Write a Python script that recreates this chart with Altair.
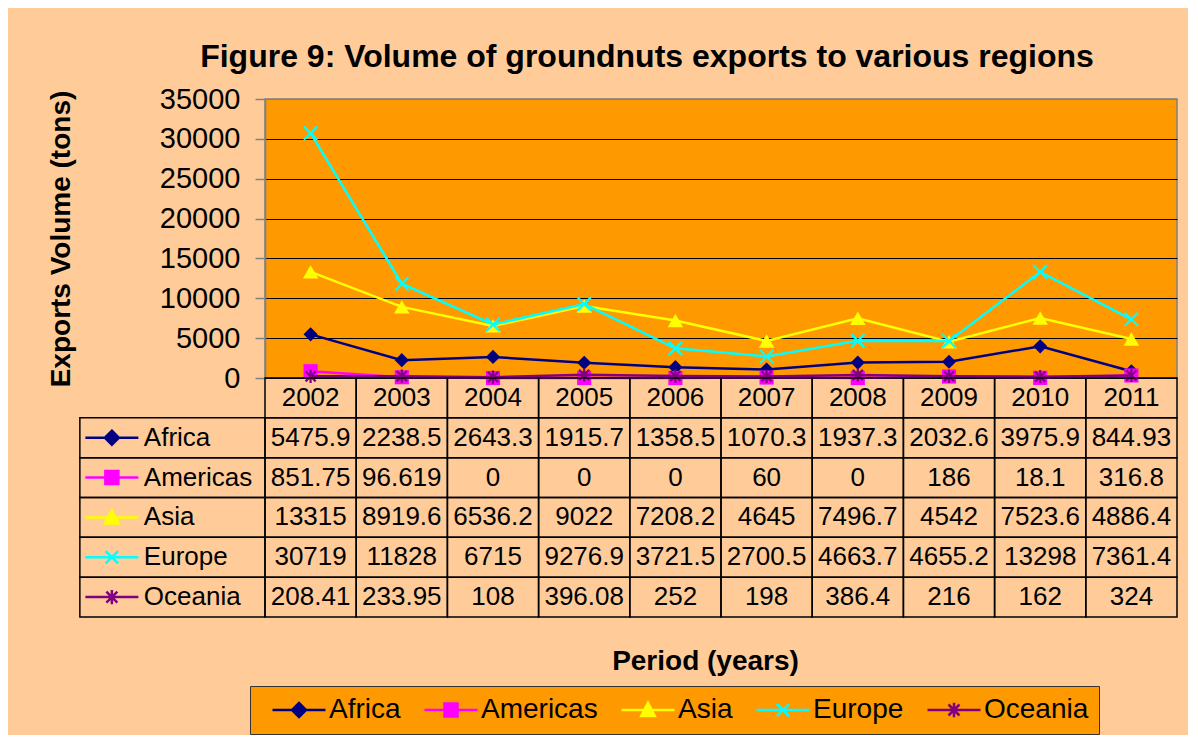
import altair as alt
import pandas as pd

# ---------------- data ----------------
years = [2002, 2003, 2004, 2005, 2006, 2007, 2008, 2009, 2010, 2011]
series = ["Africa", "Americas", "Asia", "Europe", "Oceania"]
africa = [5475.9, 2238.5, 2643.3, 1915.7, 1358.5, 1070.3, 1937.3, 2032.6, 3975.9, 844.93]
americas = [851.75, 96.619, 0, 0, 0, 60, 0, 186, 18.1, 316.8]
asia = [13315, 8919.6, 6536.2, 9022, 7208.2, 4645, 7496.7, 4542, 7523.6, 4886.4]
europe = [30719, 11828, 6715, 9276.9, 3721.5, 2700.5, 4663.7, 4655.2, 13298, 7361.4]
oceania = [208.41, 233.95, 108, 396.08, 252, 198, 386.4, 216, 162, 324]
y_ticks = [0, 5000, 10000, 15000, 20000, 25000, 30000, 35000]

colors = ["#000080", "#FF00FF", "#FFFF00", "#00FFFF", "#800080"]
FONT = "Liberation Sans"

rows = []
for s, vals in zip(series, [africa, americas, asia, europe, oceania]):
    for i, (yr, v) in enumerate(zip(years, vals)):
        rows.append({"Series": s, "Year": str(yr), "Value": v, "Row": s,
                     "Col": i, "Text": "{:.6g}".format(v)})
df = pd.DataFrame(rows)

hdr = pd.DataFrame({"Row": "Year", "Col": list(range(len(years))),
                    "Text": [str(y) for y in years]})
cells = pd.concat([hdr, df[["Row", "Col", "Text"]]], ignore_index=True)
cells["Col2"] = cells["Col"] + 1
cells["Mid"] = cells["Col"] + 0.5

labcol = pd.DataFrame({"Series": series, "Row": series, "Col": -2.03, "Col2": 0})
frame = pd.concat([cells[["Row", "Col", "Col2"]], labcol[["Row", "Col", "Col2"]]],
                  ignore_index=True)

# ---------------- styles ----------------
color_scale = alt.Scale(domain=series, range=colors)
X_PATH = "M-1,-1L1,1M-1,1L1,-1"
STAR_PATH = "M-0.8,-0.8L0.8,0.8M-0.8,0.8L0.8,-0.8M0,-1.05L0,1.05"
markers = {
    "Africa": ("diamond", 200, True),
    "Americas": ("square", 200, True),
    "Asia": ("triangle-up", 240, True),
    "Europe": (X_PATH, 180, False),
    "Oceania": (STAR_PATH, 160, False),
}
# legend-key symbols: a line with the marker in the middle
key_paths = [
    "M-2.65,0H2.65M0,-0.7L0.7,0L0,0.7L-0.7,0Z",
    "M-2.65,0H2.65M-0.65,-0.65H0.65V0.65H-0.65Z",
    "M-2.65,0H2.65M0,-0.72L0.68,0.6H-0.68Z",
    "M-2.65,0H2.65M-0.62,-0.62L0.62,0.62M-0.62,0.62L0.62,-0.62",
    "M-2.65,0H2.65M-0.55,-0.55L0.55,0.55M-0.55,0.55L0.55,-0.55M0,-0.72V0.72",
]

# ---------------- top chart ----------------
base = alt.Chart(df).encode(
    x=alt.X("Year:O", axis=None, scale=alt.Scale(padding=0.5)),
    y=alt.Y("Value:Q",
            scale=alt.Scale(domain=[0, 35000], nice=False),
            axis=alt.Axis(values=y_ticks, format="d", title="Exports Volume (tons)",
                          titleFontSize=28, titleFontWeight="bold", titleColor="black",
                          titleFont=FONT, titleX=-190,
                          labelFontSize=29, labelFont=FONT, labelColor="black",
                          labelPadding=15, tickSize=10, tickColor="#808080", tickWidth=1.5,
                          domainColor="#808080", domainWidth=1.5,
                          grid=True,
                          gridColor=alt.condition("datum.value >= 35000",
                                                  alt.value("#808080"), alt.value("black")),
                          gridWidth=1.2)),
)
layers = []
for s, c in zip(series, colors):
    shp, sz, filled = markers[s]
    sub = base.transform_filter(alt.datum.Series == s)
    layers.append(sub.mark_line(strokeWidth=2.5, color=c))
    if filled:
        mk = sub.mark_point(shape=shp, size=sz, filled=True, opacity=1, color=c)
    else:
        mk = sub.mark_point(shape=shp, size=sz, filled=False, opacity=1, color=c,
                            strokeWidth=2.2)
    layers.append(mk)

top = alt.layer(*layers).properties(
    width=912, height=279,
    view=alt.ViewBackground(fill="#FF9900", stroke="#808080", strokeWidth=1.5),
)

# ---------------- data table ----------------
xs = alt.Scale(domain=[0, 10], nice=False, zero=False)
ys = alt.Scale(domain=["Year"] + series, paddingInner=0, paddingOuter=0)

leg = alt.Legend(title=None, orient="none", legendX=-15, legendY=587,
                 direction="horizontal", columns=5,
                 fillColor="#FF9900", strokeColor="#333333", padding=10,
                 labelFontSize=28, labelFont=FONT, labelColor="black", labelLimit=400,
                 symbolSize=400, symbolStrokeWidth=2.5, symbolOffset=25,
                 labelOffset=16, columnPadding=11, symbolOpacity=1)

rects = alt.Chart(frame).mark_rect(fill="transparent", stroke="black", strokeWidth=1.5).encode(
    x=alt.X("Col:Q", scale=xs,
            axis=alt.Axis(title="Period (years)", labels=False, ticks=False, domain=False,
                          grid=False, titleFontSize=28, titleFontWeight="bold",
                          titleFont=FONT, titleColor="black", titlePadding=30, titleX=440)),
    x2="Col2:Q",
    y=alt.Y("Row:N", scale=ys, axis=None),
)
texts = alt.Chart(cells).mark_text(fontSize=26, font=FONT, color="black", baseline="middle").encode(
    x=alt.X("Mid:Q", scale=xs),
    y=alt.Y("Row:N", scale=ys),
    text="Text:N",
)
names = alt.Chart(labcol).mark_text(fontSize=26, font=FONT, color="black", baseline="middle",
                                     align="left", dx=64).encode(
    x=alt.X("Col:Q", scale=xs),
    y=alt.Y("Row:N", scale=ys),
    text="Series:N",
)
keys = alt.Chart(labcol).mark_point(filled=True, size=400, strokeWidth=2.5, opacity=1,
                                     xOffset=32).encode(
    x=alt.X("Col:Q", scale=xs),
    y=alt.Y("Row:N", scale=ys),
    color=alt.Color("Series:N", scale=color_scale, legend=leg),
    stroke=alt.Stroke("Series:N", scale=color_scale, legend=leg),
    shape=alt.Shape("Series:N", scale=alt.Scale(domain=series, range=key_paths), legend=leg),
)
table = alt.layer(rects, texts, names, keys).properties(
    width=912, height=239,
    view=alt.ViewBackground(stroke="transparent"),
)

chart = alt.vconcat(top, table, spacing=0, bounds="flush").properties(
    title=alt.Title("Figure 9: Volume of groundnuts exports to various regions",
                    fontSize=32, fontWeight="bold", font=FONT, color="black",
                    anchor="middle", dx=35, offset=10),
    background="#FFCC99",
    padding={"left": 38, "top": 33, "right": 10, "bottom": 0},
).configure_view(strokeWidth=0)

chart.save("out.html", embed_options={"renderer": "svg", "actions": False})
